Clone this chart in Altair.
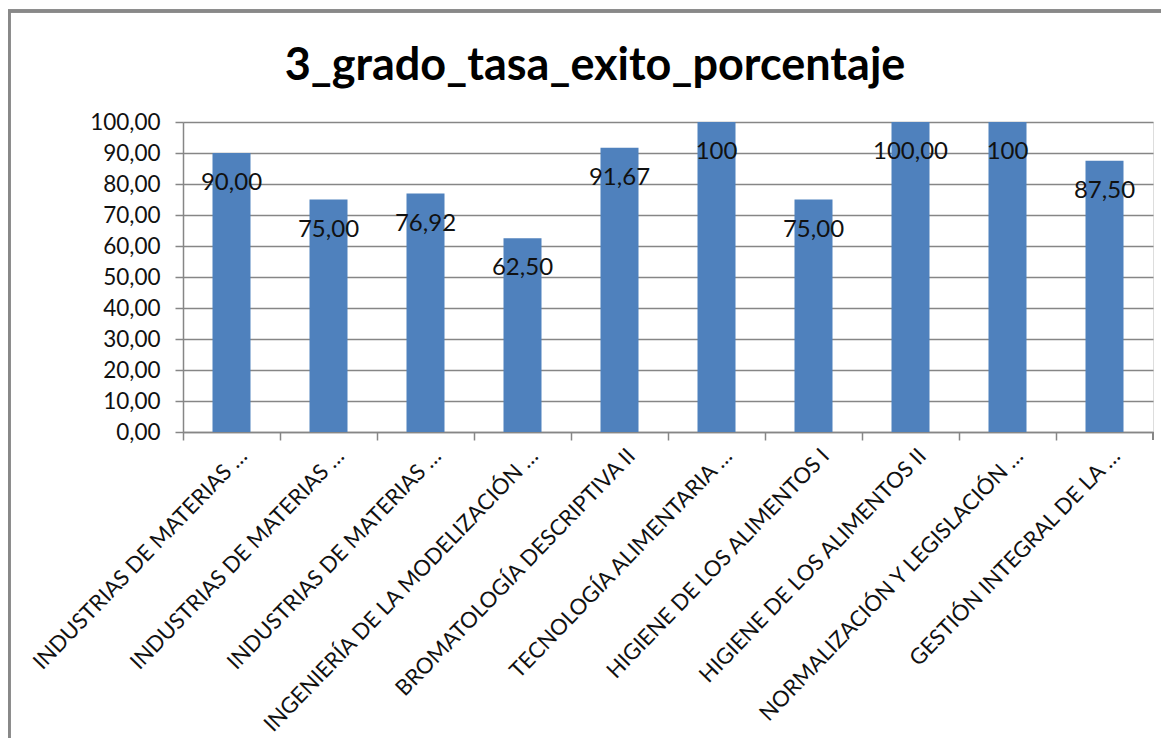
import altair as alt
import pandas as pd

categories = [
    "INDUSTRIAS DE MATERIAS …",
    "INDUSTRIAS DE MATERIAS …",
    "INDUSTRIAS DE MATERIAS …",
    "INGENIERÍA DE LA MODELIZACIÓN …",
    "BROMATOLOGÍA DESCRIPTIVA II",
    "TECNOLOGÍA ALIMENTARIA …",
    "HIGIENE DE LOS ALIMENTOS I",
    "HIGIENE DE LOS ALIMENTOS II",
    "NORMALIZACIÓN Y LEGISLACIÓN …",
    "GESTIÓN INTEGRAL DE LA …",
]
values = [90.00, 75.00, 76.92, 62.50, 91.67, 100.00, 75.00, 100.00, 100.00, 87.50]
value_labels = ["90,00", "75,00", "76,92", "62,50", "91,67", "100", "75,00", "100,00", "100", "87,50"]
y_ticks = [0, 10, 20, 30, 40, 50, 60, 70, 80, 90, 100]

# unique keys so repeated names stay separate bands
keys = [f"{i}" for i in range(len(categories))]
df = pd.DataFrame({"key": keys, "cat": categories, "value": values, "label": value_labels})

W, H = 970, 310
FONT = "Lato"
GRAY = "#868686"

label_expr = "[" + ",".join(f"'{c}'" for c in categories) + "][toNumber(datum.value)]"

x_enc = alt.X(
    "key:N",
    sort=keys,
    scale=alt.Scale(paddingInner=0, paddingOuter=0),
    axis=alt.Axis(
        title=None,
        labelExpr=label_expr,
        labelAngle=-46,
        labelAlign="right",
        labelBaseline="middle",
        labelOffset=12,
        labelPadding=12,
        bandPosition=0,
        tickSize=8,
        tickColor=GRAY,
        domainColor=GRAY,
        tickWidth=1.5,
        domainWidth=1.5,
        labelFont=FONT,
        labelFontSize=22,
        labelColor="#111111",
        labelLimit=0,
        labelOverlap=False,
        grid=False,
    ),
)
y_enc = alt.Y(
    "value:Q",
    scale=alt.Scale(domain=[0, 100], nice=False),
    axis=alt.Axis(
        title=None,
        values=y_ticks,
        tickCount=11,
        labelOverlap=False,
        labelExpr="replace(format(datum.value, '.2f'), '.', ',')",
        tickSize=8,
        tickColor=GRAY,
        domainColor=GRAY,
        gridColor=GRAY,
        tickWidth=1.5,
        domainWidth=1.5,
        gridWidth=1.5,
        labelFont=FONT,
        labelFontSize=22.5,
        labelColor="#111111",
        labelPadding=15,
    ),
)

bars = alt.Chart(df).mark_bar(size=38, color="#4F81BD").encode(x=x_enc, y=y_enc)
texts = alt.Chart(df).mark_text(
    font=FONT, fontSize=24, color="#111111", dy=30, dx=0, baseline="middle"
).encode(x=alt.X("key:N", sort=keys), y="value:Q", text="label:N")

end_tick = alt.Chart(df).mark_rule(color=GRAY, strokeWidth=1.5).encode(
    x=alt.value(W), y=alt.value(H), y2=alt.value(H + 8)
)
frame_top = alt.Chart(df).mark_rule(color="#888888", strokeWidth=2.5).encode(
    x=alt.value(-175), x2=alt.value(W + 20), y=alt.value(-111)
)
frame_left = alt.Chart(df).mark_rule(color="#888888", strokeWidth=2.5).encode(
    x=alt.value(-174), y=alt.value(-112), y2=alt.value(H + 330)
)

chart = (
    alt.layer(bars, texts, end_tick, frame_top, frame_left)
    .properties(
        width=W,
        height=H,
        title=alt.TitleParams(
            "3_grado_tasa_exito_porcentaje",
            font=FONT,
            fontSize=45,
            fontWeight="bold",
            color="#000000",
            anchor="middle",
            dx=-73,
            offset=-80,
        ),
        autosize=alt.AutoSizeParams(type="none"),
        padding={"left": 175, "top": 114, "right": 8, "bottom": 306},
    )
    .configure_view(stroke=None)
    .configure(background="white")
)

chart.save("out.html", embed_options={"renderer": "svg", "actions": False})
